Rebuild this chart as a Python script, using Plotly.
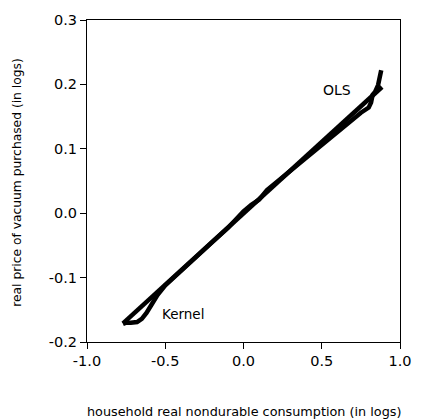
import plotly.graph_objects as go

# OLS fitted line (endpoints of the fitted range)
ols_x = [-0.77, 0.885]
ols_y = [-0.171, 0.196]

# Kernel regression curve
kernel_x = [-0.77, -0.75, -0.72, -0.68, -0.65, -0.62, -0.59, -0.55, -0.50, -0.40, -0.30,
            -0.20, -0.10, 0.0, 0.05, 0.10, 0.15, 0.20, 0.30, 0.40, 0.50, 0.60, 0.70,
            0.75, 0.80, 0.815, 0.825, 0.84, 0.86, 0.88]
kernel_y = [-0.172, -0.170, -0.170, -0.169, -0.164, -0.155, -0.143, -0.127, -0.112, -0.089,
            -0.067, -0.045, -0.023, 0.003, 0.013, 0.021, 0.036, 0.046, 0.066, 0.087, 0.108,
            0.128, 0.147, 0.156, 0.164, 0.172, 0.184, 0.188, 0.199, 0.222]

x_ticks = [-1.0, -0.5, 0.0, 0.5, 1.0]
y_ticks = [-0.2, -0.1, 0.0, 0.1, 0.2, 0.3]

fig = go.Figure()
fig.add_trace(go.Scatter(x=ols_x, y=ols_y, mode="lines",
                         line=dict(color="black", width=4.5), showlegend=False))
fig.add_trace(go.Scatter(x=kernel_x, y=kernel_y, mode="lines",
                         line=dict(color="black", width=4.5), showlegend=False))

font = "DejaVu Sans, Arial, sans-serif"
fig.update_layout(
    width=424, height=419,
    margin=dict(l=87, r=13, t=19, b=77),
    plot_bgcolor="white", paper_bgcolor="white",
    font=dict(family=font, color="black"),
    xaxis=dict(range=[-1.0, 1.0], tickvals=x_ticks, ticktext=[f"{v:.1f}" for v in x_ticks],
               ticks="outside", ticklen=6, tickcolor="black", tickwidth=1,
               showline=True, linecolor="black", linewidth=1, mirror=True,
               showgrid=False, zeroline=False, tickfont=dict(size=14.5, family=font)),
    yaxis=dict(range=[-0.2, 0.3], tickvals=y_ticks, ticktext=[f"{v:.1f}" for v in y_ticks],
               ticks="outside", ticklen=6, tickcolor="black", tickwidth=1,
               showline=True, linecolor="black", linewidth=1, mirror=True,
               showgrid=False, zeroline=False, tickfont=dict(size=14.5, family=font)),
    annotations=[
        dict(text="OLS", x=0.60, y=0.1915, xref="x", yref="y", showarrow=False,
             font=dict(size=14, family=font)),
        dict(text="Kernel", x=-0.386, y=-0.156, xref="x", yref="y", showarrow=False,
             font=dict(size=13.5, family=font)),
        dict(text="household real nondurable consumption (in logs)", x=0.5, y=-0.215,
             xref="paper", yref="paper", xanchor="center", yanchor="middle",
             showarrow=False, font=dict(size=12.8, family=font)),
        dict(text="real price of vacuum purchased (in logs)", x=-0.222, y=0.496,
             xref="paper", yref="paper", xanchor="center", yanchor="middle",
             textangle=-90, showarrow=False, font=dict(size=12.3, family=font)),
    ],
)

fig.write_html("out.html")
